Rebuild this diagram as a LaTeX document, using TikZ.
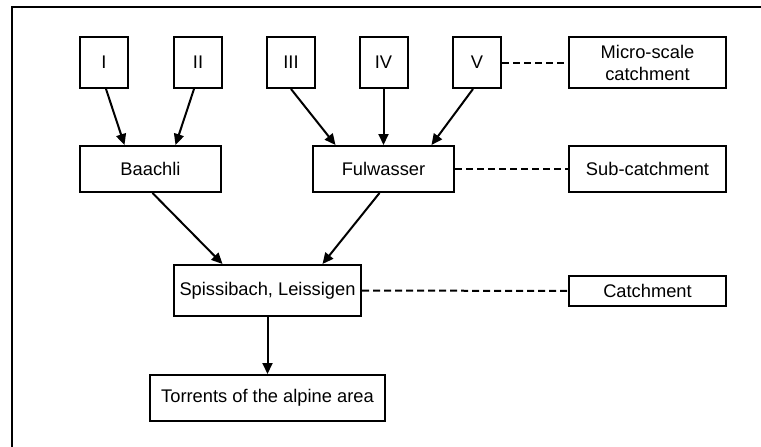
\documentclass[tikz,border=0pt]{standalone}
\usepackage{fontspec}
\setmainfont{Liberation Sans}
\usetikzlibrary{arrows.meta}

\tikzset{
  box/.style={draw,line width=2pt,inner sep=0pt,align=center,font=\fontsize{18.3}{22}\selectfont},
  unit/.style={box,minimum width=48pt,minimum height=51pt},
  site/.style={box,minimum width=141pt,minimum height=46pt},
  level/.style={box,minimum width=157pt},
  flow/.style={line width=2pt,-{Triangle[length=11pt,width=10pt]}},
  link/.style={line width=2pt,dash pattern=on 7pt off 4pt}
}

\begin{document}
\begin{tikzpicture}[x=1pt,y=-1pt]
     \useasboundingbox (0,0) rectangle (761,447);

     %frame
     \draw[line width=1.5pt] (12,447) -- (12,7) -- (761,7);

     %micro-scale catchments
     \node[unit] (I)   at (104,62.5)   {I};
     \node[unit] (II)  at (198,62.5)   {II};
     \node[unit] (III) at (291,62.5)   {III};
     \node[unit] (IV)  at (383.5,62.5) {IV};
     \node[unit] (V)   at (477,62.5)   {V};

     %sub-catchments
     \node[site] (baachli)   at (150.5,169) {Baachli};
     \node[site] (fulwasser) at (383.5,169) {Fulwasser};

     %catchment and torrents
     \node[box,minimum width=187pt,minimum height=51pt] (spiss) at (267.5,290.5) {Spissibach, Leissigen};
     \node[box,minimum width=235pt,minimum height=46pt] (torr)  at (267.5,398)   {Torrents of the alpine area};

     %levels
     \node[level,minimum height=51pt] (micro) at (647.5,62.5) {Micro-scale\\catchment};
     \node[level,minimum height=46pt] (sub)   at (647.5,169)  {Sub-catchment};
     \node[level,minimum height=30pt] (catch) at (647.5,291)  {Catchment};

     %arrows
     \draw[flow] ([xshift=2pt]I.south)  -- ([xshift=-26pt]baachli.north);
     \draw[flow] ([xshift=-4pt]II.south) -- ([xshift=25pt]baachli.north);
     \draw[flow] (III.south) -- ([xshift=-48pt]fulwasser.north);
     \draw[flow] (IV.south)  -- (fulwasser.north);
     \draw[flow] ([xshift=-4pt]V.south) -- ([xshift=48pt]fulwasser.north);
     \draw[flow] ([xshift=2pt]baachli.south) -- ([xshift=-45pt]spiss.north);
     \draw[flow] ([xshift=-4pt]fulwasser.south) -- ([xshift=55pt]spiss.north);
     \draw[flow] (spiss.south) -- (torr.north);

     %dashed links
     \draw[link] (V.east) -- (micro.west);
     \draw[link] (fulwasser.east) -- (sub.west);
     \draw[link] (spiss.east) -- (catch.west);
\end{tikzpicture}
\end{document}
